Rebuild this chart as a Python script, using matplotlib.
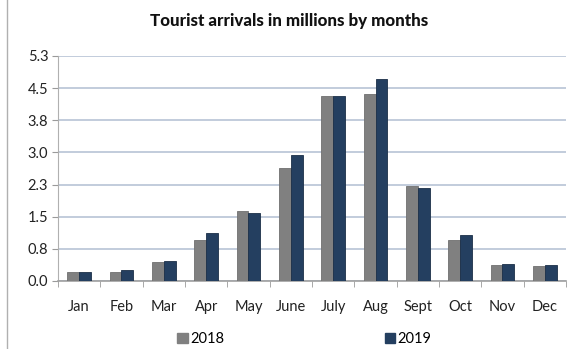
import matplotlib
matplotlib.use("Agg")
import matplotlib.pyplot as plt
import numpy as np
from matplotlib.lines import Line2D
from matplotlib.patches import Patch

months = ["Jan", "Feb", "Mar", "Apr", "May", "June", "July", "Aug", "Sept", "Oct", "Nov", "Dec"]
arrivals_2018 = [0.22, 0.22, 0.44, 0.96, 1.66, 2.65, 4.35, 4.40, 2.23, 0.97, 0.38, 0.35]
arrivals_2019 = [0.22, 0.26, 0.47, 1.12, 1.59, 2.96, 4.35, 4.75, 2.20, 1.08, 0.41, 0.38]
y_max = 5.3
n_ticks = 8

plt.rcParams["font.family"] = ["Lato", "DejaVu Sans"]

fig = plt.figure(figsize=(5.73, 3.49), dpi=100)
ax = fig.add_axes([58 / 573, 1 - 281 / 349, 508 / 573, 225 / 349])

x = np.arange(len(months))
w = 0.28
ax.bar(x - w / 2, arrivals_2018, width=w, color="#808080", edgecolor="#707070", linewidth=0.6, zorder=3)
ax.bar(x + w / 2, arrivals_2019, width=w, color="#243f60", edgecolor="#1b2f48", linewidth=0.6, zorder=3)

ax.set_xlim(-0.5, len(months) - 0.5)
ax.set_ylim(0, y_max)
yticks = np.linspace(0, y_max, n_ticks)
ax.set_yticks(yticks)
ax.set_yticklabels([f"{v:.1f}" for v in yticks], fontsize=10.5, color="#222222")
ax.set_xticks(x)
ax.set_xticklabels(months, fontsize=10.5, color="#222222")
ax.set_xticks(np.arange(-0.5, len(months)), minor=True)
ax.tick_params(axis="x", which="major", length=0, pad=14)
ax.tick_params(axis="x", which="minor", length=4, color="#9a9a9a", direction="out")
ax.tick_params(axis="y", length=4, color="#9a9a9a", pad=3)

ax.grid(axis="y", color="#b8c4d6", linewidth=1.2, zorder=0)
for s in ["top", "right"]:
    ax.spines[s].set_visible(False)
ax.spines["left"].set_color("#b0b0b0")
ax.spines["bottom"].set_color("#a0a0a0")
ax.spines["bottom"].set_linewidth(1.2)

fig.text(289 / 573, 1 - 21 / 349, "Tourist arrivals in millions by months",
         ha="center", va="center", fontsize=12.2, fontweight="black", color="#111111")

# left frame edge of the chart box
fig.add_artist(Line2D([7 / 573, 7 / 573], [0, 1], transform=fig.transFigure, color="#b0b0b0", linewidth=1))

h1 = Patch(facecolor="#808080", edgecolor="#808080")
h2 = Patch(facecolor="#243f60", edgecolor="#243f60")
fig.legend([h1], ["2018"], loc="center", bbox_to_anchor=(201 / 573, 1 - 339 / 349),
           frameon=False, fontsize=10.5, handlelength=0.7, handleheight=0.7, handletextpad=0.2)
fig.legend([h2], ["2019"], loc="center", bbox_to_anchor=(408 / 573, 1 - 339 / 349),
           frameon=False, fontsize=10.5, handlelength=0.7, handleheight=0.7, handletextpad=0.2)

fig.savefig("out.png", dpi=100, facecolor="white")
